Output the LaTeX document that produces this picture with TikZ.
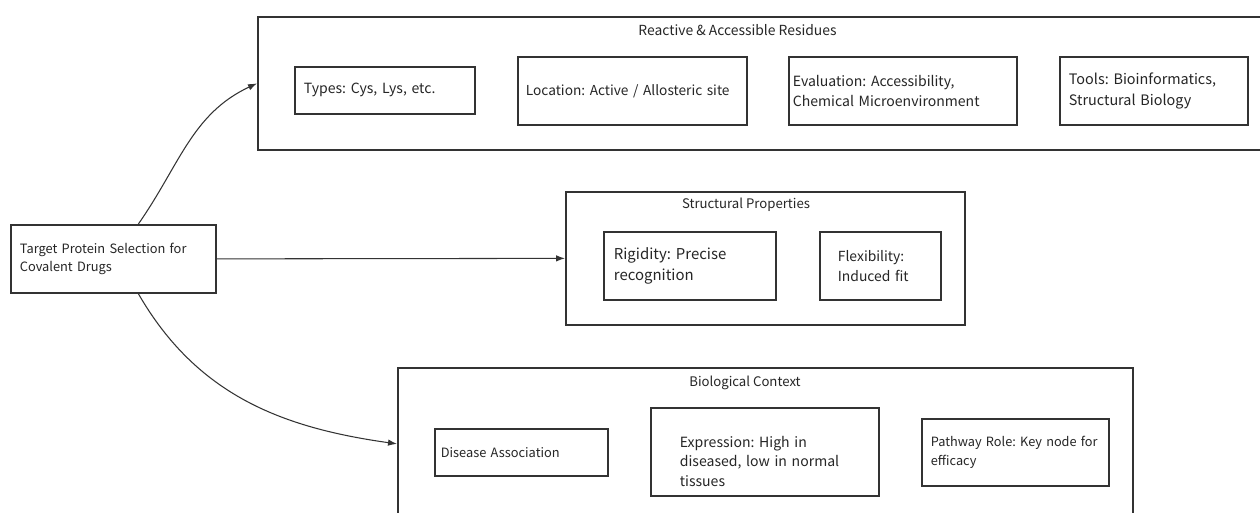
\documentclass[tikz,border=0pt]{standalone}
\usepackage{fontspec}
\setmainfont{Noto Sans CJK SC}
\usetikzlibrary{positioning,arrows.meta}
\frenchspacing

\begin{document}
\begin{tikzpicture}[
    box/.style={draw=black!80, line width=1pt, anchor=north west, align=left, inner xsep=0.18cm, inner ysep=0pt, text=black!85, font=\fontsize{8}{11}\selectfont},
    frame/.style={draw=black!80, line width=1pt, anchor=north west, inner sep=0pt},
    heading/.style={text=black!85, font=\fontsize{7.5}{9}\selectfont},
    link/.style={draw=black!80, line width=0.6pt, -{Latex[length=1.8mm,width=1.3mm]}}
]
\useasboundingbox [fill=white] (0,0) rectangle (25.2,-10.26);

\node [box, text width=3.74cm, minimum height=1.36cm, font=\fontsize{7.3}{10.5}\selectfont] (root) at (0.2,-4.48) {Target Protein Selection for\\Covalent Drugs};

\node [frame, minimum width=20.1cm, minimum height=2.66cm] (react) at (5.14,-0.32) {};
\node [heading, font=\fontsize{7.9}{9}\selectfont] (reacttitle) at (14.75,-0.6) {Reactive \& Accessible Residues};
\node [box, text width=3.24cm, minimum height=0.94cm] (types) at (5.88,-1.32) {Types: Cys, Lys, etc.};
\node [box, inner xsep=0.16cm, text width=4.26cm, minimum height=1.36cm, font=\fontsize{7.8}{11}\selectfont] (location) at (10.34,-1.12) {Location: Active / Allosteric site};
\node [box, inner xsep=0.08cm, text width=4.4cm, minimum height=1.36cm] (evaluation) at (15.76,-1.12) {Evaluation: Accessibility,\\Chemical Microenvironment};
\node [box, text width=3.4cm, minimum height=1.36cm, font=\fontsize{8.2}{11.5}\selectfont] (tools) at (21.18,-1.12) {Tools: Bioinformatics,\\Structural Biology};

\node [frame, minimum width=7.98cm, minimum height=2.66cm] (struct) at (11.3,-3.82) {};
\node [heading] (structtitle) at (14.92,-4.1) {Structural Properties};
\node [box, inner xsep=0.2cm, text width=3.04cm, minimum height=1.36cm, font=\fontsize{8.5}{12}\selectfont] (rigidity) at (12.06,-4.62) {Rigidity: Precise\\recognition};
\node [box, inner xsep=0.36cm, text width=1.7cm, minimum height=1.36cm, font=\fontsize{7.9}{11.5}\selectfont] (flexibility) at (16.38,-4.62) {Flexibility:\\Induced fit};

\node [frame, minimum width=14.7cm, minimum height=3.04cm] (bio) at (7.94,-7.34) {};
\node [heading] (biotitle) at (14.9,-7.66) {Biological Context};
\node [box, inner xsep=0.12cm, text width=3.22cm, minimum height=0.94cm, font=\fontsize{7.3}{10}\selectfont] (disease) at (8.68,-8.56) {Disease Association};
\node [box, inner xsep=0.58cm, text width=3.4cm, minimum height=1.76cm] (expression) at (13.0,-8.14) {\rule{0pt}{0.6cm}Expression: High in\\diseased, low in normal\\tissues};
\node [box, text width=3.38cm, minimum height=1.34cm, font=\fontsize{7.25}{10.5}\selectfont] (pathway) at (18.42,-8.36) {Pathway Role: Key node for\\efficacy};

\draw [link] ([xshift=0.5cm]root.north) to [out=55,in=205] (react.west);
\draw [link] (root.east) -- (struct.west);
\draw [link] ([xshift=0.5cm]root.south) to [out=-60,in=172] (bio.west);
\end{tikzpicture}
\end{document}
